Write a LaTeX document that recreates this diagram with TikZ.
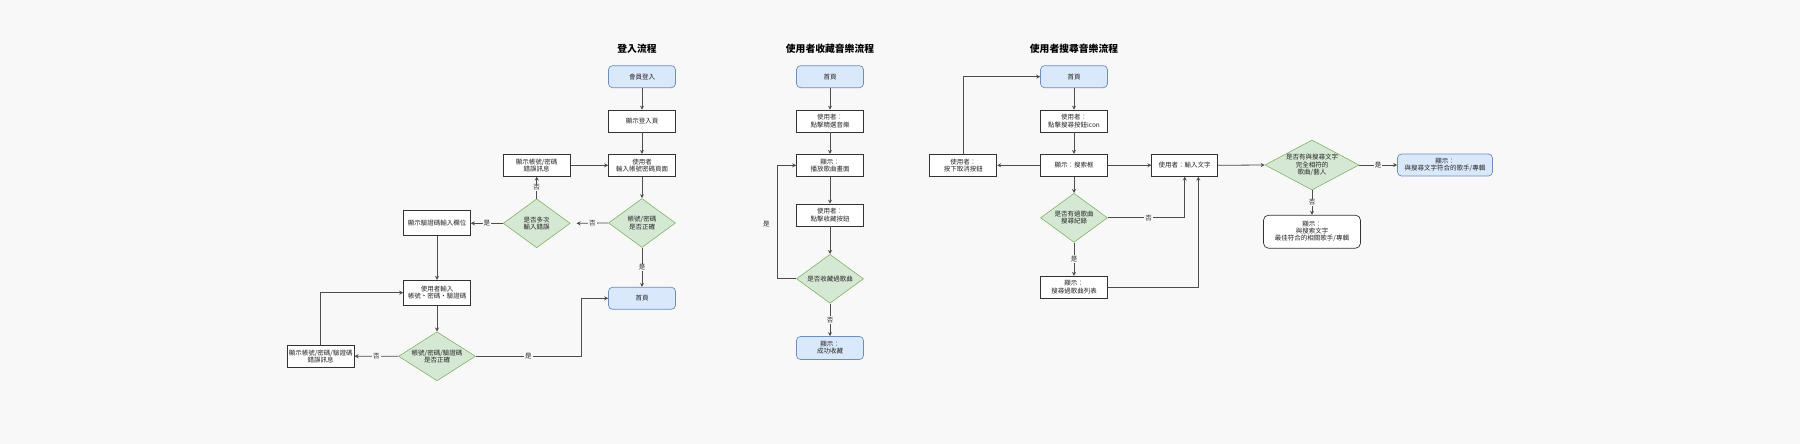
\documentclass[tikz,border=0pt]{standalone}
\usepackage{fontspec}
\setmainfont{Noto Sans CJK TC}
\usetikzlibrary{shapes.geometric,arrows.meta}

\definecolor{pagebg}{HTML}{F8F8F8}
\definecolor{boxline}{HTML}{333333}
\definecolor{arrline}{HTML}{4D4D4D}
\definecolor{bluefill}{HTML}{DAE8FC}
\definecolor{blueline}{HTML}{6C8EBF}
\definecolor{greenfill}{HTML}{D5E8D4}
\definecolor{greenline}{HTML}{82B366}

\tikzset{
  flowtext/.style={font=\fontsize{6.5}{7.2}\selectfont,text=black!85},
  box/.style={flowtext,draw=boxline,fill=white,line width=0.7pt,
    minimum width=67pt,minimum height=22pt,inner sep=1pt,align=center},
  startbox/.style={box,draw=blueline,fill=bluefill,rounded corners=4pt},
  decide/.style={flowtext,diamond,draw=greenline,fill=greenfill,line width=0.6pt,
    minimum width=67pt,minimum height=49pt,inner sep=0pt,aspect=1.37,align=center},
  title/.style={font=\fontsize{9.8}{11}\selectfont\bfseries},
  arr/.style={draw=arrline,line width=0.8pt,-{Stealth[length=4pt,width=4pt]}},
  elabel/.style={flowtext,fill=pagebg,inner sep=1pt},
}

\def\lx{642}
\def\cx{830}
\def\sx{1074}

\begin{document}
\begin{tikzpicture}[x=1pt,y=-1pt]
  \fill[pagebg] (0,0) rectangle (1800,444);
  \useasboundingbox (0,0) rectangle (1800,444);

  \node[title] (tLogin) at (637,49) {登入流程};
  \node[startbox] (login) at (\lx,76.7) {會員登入};
  \node[box] (showLogin) at (\lx,121) {顯示登入頁};
  \node[box] (inputPage) at (\lx,165.3) {使用者\\輸入帳號密碼頁面};
  \node[box] (errMsg) at (536.7,165.3) {顯示帳號/密碼\\錯誤訊息};
  \node[decide] (chkPwd) at (\lx,223) {帳號/密碼\\是否正確};
  \node[decide] (chkMulti) at (536.7,223.3) {是否多次\\輸入錯誤};
  \node[box,minimum height=25pt] (showCaptcha) at (437,223.3) {顯示驗證碼輸入欄位};
  \node[box,minimum height=25pt] (inputAll) at (437,292.7) {使用者輸入\\帳號・密碼・驗證碼};
  \node[decide,minimum width=77pt,aspect=1.57] (chkAll) at (437,356.3) {帳號/密碼/驗證碼\\是否正確};
  \node[box] (errAll) at (320.7,356.2) {顯示帳號/密碼/驗證碼\\錯誤訊息};
  \node[startbox] (homeA) at (\lx,298.3) {首頁};
  \coordinate (bendA) at (581,356.3);

  \draw[arr] (login) -- (showLogin);
  \draw[arr] (showLogin) -- (inputPage);
  \draw[arr] (inputPage) -- (chkPwd);
  \draw[arr] (chkPwd.west) -- node[elabel] {否} ([xshift=6pt]chkMulti.east);
  \draw[arr] (chkMulti.north) -- node[elabel] {否} (errMsg.south);
  \draw[arr] (errMsg.east) -- (inputPage.west);
  \draw[arr] (chkMulti.west) -- node[elabel] {是} (showCaptcha.east);
  \draw[arr] (showCaptcha) -- (inputAll);
  \draw[arr] (inputAll) -- (chkAll);
  \draw[arr] (chkAll.west) -- node[elabel] {否} (errAll.east);
  \draw[arr] (errAll.north) |- (inputAll.west);
  \draw[arr] (chkAll.east) -- node[elabel] {是} (bendA) |- (homeA.west);
  \draw[arr] (chkPwd.south) -- node[elabel] {是} (homeA.north);

  \node[title] (tFav) at (\cx,49) {使用者收藏音樂流程};
  \node[startbox] (homeB) at (\cx,76.7) {首頁};
  \node[box] (clickPick) at (\cx,121) {使用者：\\點擊精選音樂};
  \node[box] (playPage) at (\cx,165.3) {顯示：\\播放歌曲畫面};
  \node[box] (clickFav) at (\cx,215) {使用者：\\點擊收藏按鈕};
  \node[decide] (chkFav) at (\cx,278.8) {是否收藏過歌曲};
  \node[startbox,minimum height=23pt] (favDone) at (\cx,348) {顯示：\\成功收藏};
  \coordinate (bendB) at (777.3,278.8);

  \draw[arr] (homeB) -- (clickPick);
  \draw[arr] (clickPick) -- (playPage);
  \draw[arr] (playPage) -- (clickFav);
  \draw[arr] (clickFav) -- (chkFav);
  \draw[arr] (chkFav.west) -- (bendB) |- node[flowtext,pos=0.5,left=4pt,yshift=-59pt] {是} (playPage.west);
  \draw[arr] (chkFav.south) -- node[elabel] {否} (favDone.north);

  \node[title] (tSearch) at (\sx,49) {使用者搜尋音樂流程};
  \node[startbox] (homeC) at (\sx,76.7) {首頁};
  \node[box] (clickIcon) at (\sx,121) {使用者：\\點擊搜尋按鈕icon};
  \node[box] (searchBox) at (\sx,165.3) {顯示：搜索框};
  \node[box] (cancelBtn) at (963.3,165.3) {使用者：\\按下取消按鈕};
  \node[box,minimum width=66pt] (inputText) at (1184.7,165.3) {使用者：輸入文字};
  \node[decide] (chkHist) at (\sx,217.8) {是否有過歌曲\\搜尋紀錄};
  \node[box] (histList) at (\sx,287.2) {顯示：\\搜尋過歌曲列表};
  \node[decide,minimum width=94pt,minimum height=50pt,aspect=1.88] (chkMatch) at (1312,165) {是否有與搜尋文字\\完全相符的\\歌曲/藝人};
  \node[startbox,minimum width=95pt] (matchShow) at (1445,165) {顯示：\\與搜尋文字符合的歌手/專輯};
  \node[box,rounded corners=5pt,minimum width=97pt,minimum height=33pt] (bestShow) at (1312,231.7) {顯示：\\與搜索文字\\最佳符合的相關歌手/專輯};

  \draw[arr] (homeC) -- (clickIcon);
  \draw[arr] (clickIcon) -- (searchBox);
  \draw[arr] (searchBox.west) -- (cancelBtn.east);
  \draw[arr] (cancelBtn.north) |- (homeC.west);
  \draw[arr] (searchBox.east) -- (inputText.west);
  \draw[arr] (searchBox.south) -- (chkHist.north);
  \draw[arr] (chkHist.east) -| node[elabel,pos=0.5,xshift=-36pt] {否} (inputText.south);
  \draw[arr] (chkHist.south) -- node[elabel] {是} (histList.north);
  \draw[arr] (histList.east) -| ([xshift=13.6pt]inputText.south);
  \draw[arr] (inputText.east) -- (chkMatch.west);
  \draw[arr] (chkMatch.east) -- node[elabel] {是} (matchShow.west);
  \draw[arr] (chkMatch.south) -- node[elabel] {否} (bestShow.north);

\end{tikzpicture}
\end{document}
